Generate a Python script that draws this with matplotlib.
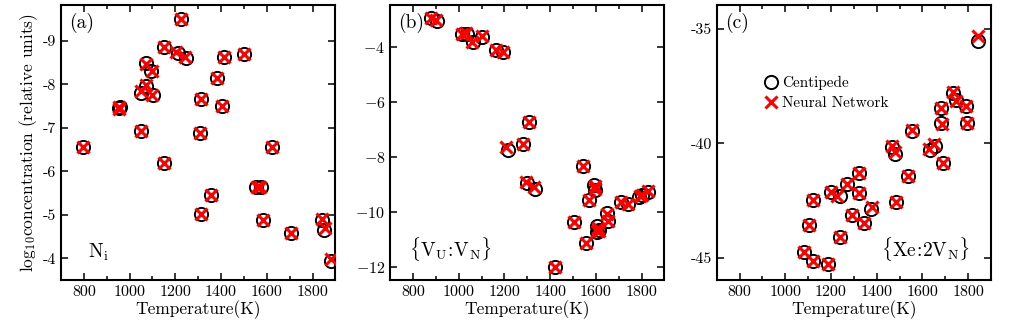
import matplotlib
matplotlib.use('Agg')
import matplotlib.pyplot as plt
from matplotlib.ticker import MultipleLocator, FixedLocator, FixedFormatter

plt.rcParams['font.family'] = 'serif'
plt.rcParams['font.serif'] = ['cmr10', 'DejaVu Serif']
plt.rcParams['mathtext.fontset'] = 'cm'
plt.rcParams['axes.unicode_minus'] = False
plt.rcParams['axes.formatter.use_mathtext'] = False

# ── Data: (a) N_i ────────────────────────────────────────────────────────────
a_T_cp = [797, 953, 958, 1052, 1052, 1073, 1073, 1095, 1102, 1150, 1150, 1224,
          1210, 1246, 1311, 1306, 1311, 1357, 1383, 1404, 1414, 1501, 1553,
          1574, 1584, 1625, 1704, 1841, 1850, 1879]
a_v_cp = [-6.57, -7.45, -7.48, -6.93, -7.81, -7.97, -8.49, -8.31, -7.76, -8.87,
          -6.20, -9.51, -8.73, -8.60, -7.66, -6.88, -5.02, -5.46, -8.14, -7.51,
          -8.63, -8.69, -5.63, -5.64, -4.89, -6.57, -4.59, -4.89, -4.66, -3.94]
a_T_nn = [797, 955, 952, 1052, 1048, 1070, 1070, 1097, 1100, 1150, 1150, 1224,
          1205, 1244, 1311, 1306, 1311, 1357, 1383, 1404, 1414, 1501, 1556,
          1572, 1584, 1625, 1704, 1843, 1854, 1882]
a_v_nn = [-6.57, -7.44, -7.47, -6.93, -7.84, -7.99, -8.47, -8.30, -7.75, -8.87,
          -6.20, -9.51, -8.75, -8.62, -7.66, -6.88, -5.02, -5.46, -8.14, -7.51,
          -8.63, -8.69, -5.63, -5.64, -4.89, -6.57, -4.59, -4.91, -4.70, -3.98]

# ── Data: (b) {V_U:V_N} ──────────────────────────────────────────────────────
b_T_cp = [880, 905, 1013, 1035, 1061, 1104, 1165, 1194, 1309, 1216, 1280, 1298,
          1335, 1543, 1591, 1598, 1569, 1504, 1558, 1422, 1605, 1616, 1651,
          1655, 1605, 1710, 1739, 1790, 1803, 1829]
b_v_cp = [-2.97, -3.05, -3.55, -3.55, -3.84, -3.64, -4.12, -4.20, -6.73, -7.76,
          -7.54, -8.95, -9.17, -8.33, -9.03, -9.21, -9.57, -10.39, -11.15,
          -12.00, -10.52, -10.67, -10.06, -10.33, -10.73, -9.64, -9.72, -9.45,
          -9.38, -9.27]
b_T_nn = [880, 900, 1013, 1030, 1058, 1104, 1165, 1192, 1309, 1209, 1280, 1293,
          1330, 1543, 1595, 1596, 1569, 1504, 1558, 1422, 1610, 1616, 1651,
          1655, 1605, 1712, 1739, 1792, 1803, 1829]
b_v_nn = [-2.95, -3.02, -3.55, -3.52, -3.82, -3.60, -4.12, -4.18, -6.73, -7.64,
          -7.54, -8.92, -9.10, -8.33, -9.08, -9.18, -9.57, -10.39, -11.15,
          -12.00, -10.60, -10.70, -10.10, -10.35, -10.70, -9.64, -9.72, -9.42,
          -9.38, -9.25]

# ── Data: (c) {Xe:2V_N} ──────────────────────────────────────────────────────
c_T_cp = [1844, 1732, 1746, 1790, 1680, 1683, 1796, 1555, 1469, 1479, 1632,
          1654, 1690, 1537, 1486, 1323, 1272, 1202, 1238, 1323, 1121, 1374,
          1292, 1344, 1102, 1241, 1080, 1121, 1187]
c_v_cp = [-35.54, -37.80, -38.10, -38.36, -38.46, -39.12, -39.12, -39.45,
          -40.14, -40.46, -40.28, -40.11, -40.84, -41.45, -42.57, -41.31,
          -41.79, -42.15, -42.29, -42.18, -42.50, -42.88, -43.13, -43.49,
          -43.57, -44.12, -44.76, -45.14, -45.29]
c_T_nn = [1844, 1732, 1746, 1790, 1680, 1686, 1796, 1555, 1469, 1479, 1628,
          1652, 1690, 1537, 1486, 1323, 1272, 1202, 1225, 1323, 1121, 1378,
          1292, 1344, 1102, 1241, 1080, 1121, 1187]
c_v_nn = [-35.32, -37.75, -38.15, -38.36, -38.46, -39.15, -39.12, -39.40,
          -40.10, -40.40, -40.25, -40.05, -40.84, -41.45, -42.57, -41.31,
          -41.79, -42.15, -42.29, -42.18, -42.50, -42.80, -43.13, -43.49,
          -43.57, -44.12, -44.76, -45.14, -45.29]

XLIM = (700, 1900)
XTICKS = [800, 1000, 1200, 1400, 1600, 1800]

fig = plt.figure(figsize=(10.2, 3.24), dpi=100)
W = 0.269
B, H = 0.136, 0.849
axes = [fig.add_axes([0.0598, B, W, H]),
        fig.add_axes([0.3824, B, W, H]),
        fig.add_axes([0.7026, B, W, H])]


def style(ax):
    ax.set_xlim(*XLIM)
    ax.set_xticks(XTICKS)
    ax.xaxis.set_minor_locator(MultipleLocator(100))
    ax.tick_params(which='both', direction='in', top=True, right=True,
                   labelsize=11.5, width=1.1)
    ax.tick_params(which='major', length=5)
    ax.tick_params(which='minor', length=3)
    ax.tick_params(axis='y', which='minor', left=False, right=False)
    for s in ax.spines.values():
        s.set_linewidth(1.5)
    ax.set_xlabel('Temperature(K)', fontsize=12.5, labelpad=1)


def scatter(ax, T1, v1, T2, v2):
    ax.plot(T1, v1, 'o', ms=9.5, mfc='none', mec='black', mew=1.4,
            label='Centipede', zorder=2)
    ax.plot(T2, v2, 'x', ms=8.5, color='red', mew=2.2,
            label='Neural Network', zorder=3)


# (a)
ax = axes[0]
scatter(ax, a_T_cp, a_v_cp, a_T_nn, a_v_nn)
style(ax)
ax.set_ylim(-3.5, -9.83)
ax.set_yticks([-9, -8, -7, -6, -5, -4])
ax.set_ylabel(r'log$_{10}$concentration (relative units)', fontsize=12.5,
              labelpad=2)
ax.text(0.03, 0.97, '(a)', transform=ax.transAxes, fontsize=14,
        va='top', ha='left')
ax.text(0.1, 0.06, r'$\mathrm{N_i}$', transform=ax.transAxes, fontsize=14,
        va='bottom', ha='left')

# (b)
ax = axes[1]
scatter(ax, b_T_cp, b_v_cp, b_T_nn, b_v_nn)
style(ax)
ax.set_ylim(-12.48, -2.48)
ax.yaxis.set_major_locator(FixedLocator([-4, -6, -8, -10, -12]))
ax.yaxis.set_major_formatter(FixedFormatter(
    [r'$-4$', r'$-6$', r'$-8$', r'$-10$', r'$-12$']))
ax.text(0.03, 0.97, '(b)', transform=ax.transAxes, fontsize=14,
        va='top', ha='left')
ax.text(0.07, 0.06, r'$\{\mathrm{V_U\!:\!V_N}\}$', transform=ax.transAxes,
        fontsize=14, va='bottom', ha='left')

# (c)
ax = axes[2]
scatter(ax, c_T_cp, c_v_cp, c_T_nn, c_v_nn)
style(ax)
ax.set_ylim(-45.98, -33.94)
ax.set_yticks([-45, -40, -35])
ax.text(0.03, 0.97, '(c)', transform=ax.transAxes, fontsize=14,
        va='top', ha='left')
ax.text(0.6, 0.06, r'$\{\mathrm{Xe\!:\!2V_N}\}$', transform=ax.transAxes,
        fontsize=14, va='bottom', ha='left')
ax.legend(loc='center left', bbox_to_anchor=(0.12, 0.68), frameon=False,
          fontsize=11, handletextpad=0.2, labelspacing=0.4,
          handlelength=1.0)

fig.savefig('out.png', dpi=100)
